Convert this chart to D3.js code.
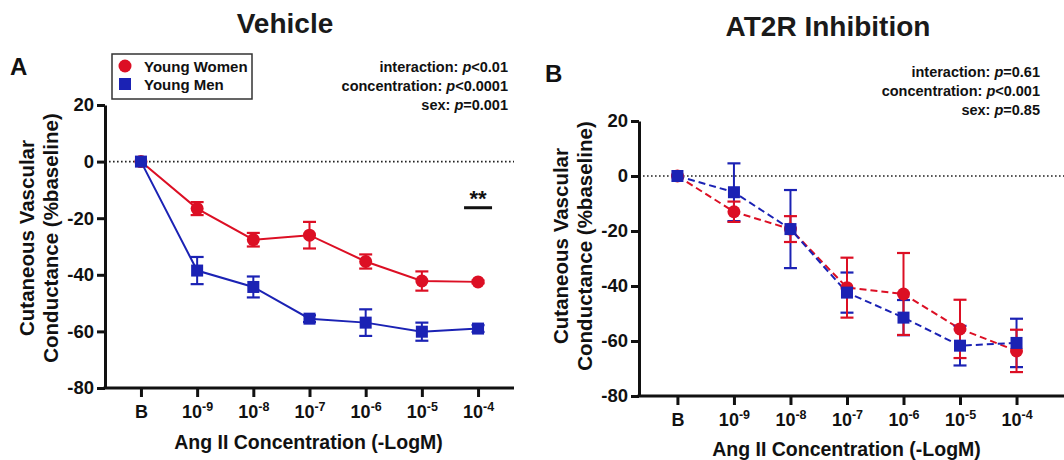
<!DOCTYPE html>
<html>
<head>
<meta charset="utf-8">
<script src="https://cdn.jsdelivr.net/npm/d3@7"></script>
<style>
  body { margin: 0; background: #fff; }
  svg text { font-family: "Liberation Sans", Arial, Helvetica, sans-serif; font-weight: bold; fill: #111; }
</style>
</head>
<body>
<svg id="chart" width="1064" height="460"></svg>
<script>
// x categories (B = baseline, then 10^-9 ... 10^-4 M)
var categories = ["B", "-9", "-8", "-7", "-6", "-5", "-4"]
var yTicks = [20, 0, -20, -40, -60, -80]

// panel A: vehicle
var vehWomen    = [0, -16.6, -27.6, -26.0, -35.3, -42.2, -42.5]
var vehWomenErr = [0, 2.3, 2.4, 4.7, 2.5, 3.4, 0.5]
var vehMen      = [0, -38.5, -44.3, -55.5, -56.9, -60.1, -59.0]
var vehMenErr   = [0, 4.8, 3.7, 1.2, 4.7, 3.2, 1.2]

// panel B: AT2R inhibition
var at2Women    = [0, -13.0, -19.3, -40.6, -42.9, -55.6, -63.6]
var at2WomenErr = [0, 3.7, 4.7, 10.9, 14.9, 10.6, 7.7]
var at2Men      = [0, -5.9, -19.3, -42.4, -51.5, -61.7, -60.7]
var at2MenErr   = [0, 10.5, 14.2, 7.3, 6.4, 7.2, 8.8]

var statsA = [["interaction: ", "p", "<0.01"], ["concentration: ", "p", "<0.0001"], ["sex: ", "p", "=0.001"]]
var statsB = [["interaction: ", "p", "=0.61"], ["concentration: ", "p", "<0.001"], ["sex: ", "p", "=0.85"]]

var RED = "#dc0f24", BLUE = "#1b22b4"

var svg = d3.select("#chart")

function drawPanel(opt){
  var g = svg.append("g")

  var x = d3.scaleLinear().domain(opt.xDomain).range(opt.xRange)
  var y = d3.scaleLinear().domain([-80, 20]).range(opt.yRange)
  var x0 = opt.xRange[0], x1 = opt.xRange[1]

  // titles
  g.append("text").attr("x", opt.titleX).attr("y", opt.titleY)
    .attr("text-anchor", "middle").style("font-size", "28px").style("fill", "#1a1a1a")
    .text(opt.title)
  g.append("text").attr("x", opt.letterX).attr("y", opt.letterY)
    .style("font-size", "24px").text(opt.letter)

  // stats block, right aligned
  opt.stats.forEach(function(s, i){
    var t = g.append("text").attr("x", opt.statsX).attr("y", opt.statsY + i * 19)
      .attr("text-anchor", "end").style("font-size", "14.5px")
    t.append("tspan").text(s[0])
    t.append("tspan").style("font-style", "italic").text(s[1])
    t.append("tspan").text(s[2])
  })

  // zero reference line
  g.append("line")
    .attr("x1", x0).attr("x2", x1).attr("y1", y(0)).attr("y2", y(0))
    .style("stroke", "#222").style("stroke-width", 1.6).style("stroke-dasharray", "1.6,2.4")

  // y axis (plain hyphen for negatives, like the original)
  var yAxis = g.append("g").attr("transform", "translate(" + x0 + ",0)")
    .call(d3.axisLeft(y).tickValues(yTicks).tickSize(8).tickSizeOuter(0).tickPadding(3)
      .tickFormat(function(d){ return String(d) }))
  yAxis.select(".domain").style("stroke", "#111").style("stroke-width", 3)
  yAxis.selectAll(".tick line").style("stroke", "#111").style("stroke-width", 3)
  yAxis.selectAll(".tick text").style("font-size", "18.5px").style("font-family", "Liberation Sans, Arial, sans-serif")
    .style("font-weight", "bold").style("fill", "#111")

  // x axis
  var xAxis = g.append("g").attr("transform", "translate(0," + y(-80) + ")")
    .call(d3.axisBottom(x).tickValues(d3.range(categories.length)).tickSize(9).tickSizeOuter(0).tickFormat(""))
  xAxis.select(".domain").attr("d", "M" + (x0 - 1.5) + ",0H" + x1).style("stroke", "#111").style("stroke-width", 3)
  xAxis.selectAll(".tick line").style("stroke", "#111").style("stroke-width", 3)
  xAxis.selectAll(".tick").each(function(d){
    var t = d3.select(this).append("text").attr("y", 30).attr("text-anchor", "middle")
      .style("font-size", "18px")
    if (categories[d] == "B") {
      t.text("B")
    } else {
      t.append("tspan").text("10")
      t.append("tspan").attr("dy", -7).style("font-size", "12.5px").text(categories[d])
    }
  })

  // axis titles
  g.append("text").attr("x", (x0 + opt.xTitleRight) / 2).attr("y", opt.xTitleY)
    .attr("text-anchor", "middle").style("font-size", "19.5px").text("Ang II Concentration (-LogM)")
  var yl = g.append("text").attr("transform", "translate(" + opt.yLabelX + "," + opt.yLabelY + ") rotate(-90)")
    .attr("text-anchor", "middle").style("font-size", "20.5px")
  yl.append("tspan").attr("x", 0).attr("dy", 0).text("Cutaneous Vascular")
  yl.append("tspan").attr("x", 0).attr("dy", 23.5).text("Conductance (%baseline)")

  var series = [
    { vals: opt.women, err: opt.womenErr, color: RED, shape: "circle" },
    { vals: opt.men, err: opt.menErr, color: BLUE, shape: "square" }
  ]

  var line = d3.line().x(function(d, i){ return x(i) }).y(function(d){ return y(d) })

  series.forEach(function(s){
    g.append("path").datum(s.vals).attr("d", line)
      .style("fill", "none").style("stroke", s.color).style("stroke-width", 2)
      .style("stroke-dasharray", opt.dashed ? "7,4" : null)
  })

  // error bars
  series.slice().reverse().forEach(function(s){
    var eb = g.append("g")
    s.vals.forEach(function(v, i){
      if (!s.err[i]) return
      var cx = x(i), top = y(v + s.err[i]), bot = y(v - s.err[i])
      eb.append("line").attr("x1", cx).attr("x2", cx).attr("y1", top).attr("y2", bot)
        .style("stroke", s.color).style("stroke-width", 2)
      ;[top, bot].forEach(function(yy){
        eb.append("line").attr("x1", cx - 6.5).attr("x2", cx + 6.5).attr("y1", yy).attr("y2", yy)
          .style("stroke", s.color).style("stroke-width", 2.2)
      })
    })
  })

  // markers
  series.forEach(function(s){
    if (s.shape == "circle") {
      g.selectAll(null).data(s.vals).enter().append("circle")
        .attr("cx", function(d, i){ return x(i) }).attr("cy", function(d){ return y(d) })
        .attr("r", 6.5).style("fill", s.color)
    } else {
      g.selectAll(null).data(s.vals).enter().append("rect")
        .attr("x", function(d, i){ return x(i) - 6 }).attr("y", function(d){ return y(d) - 6 })
        .attr("width", 12).attr("height", 12).style("fill", s.color)
    }
  })

  return { g: g, x: x, y: y }
}

var pA = drawPanel({
  title: "Vehicle", titleX: 285, titleY: 33, letter: "A", letterX: 10, letterY: 75,
  stats: statsA, statsX: 508, statsY: 72,
  xDomain: [-0.64, 6.64], xRange: [105, 514], yRange: [388, 105],
  xTitleRight: 512, xTitleY: 449, yLabelX: 34, yLabelY: 238,
  women: vehWomen, womenErr: vehWomenErr, men: vehMen, menErr: vehMenErr, dashed: false
})

var pB = drawPanel({
  title: "AT2R Inhibition", titleX: 828, titleY: 36, letter: "B", letterX: 545, letterY: 82,
  stats: statsB, statsX: 1040, statsY: 77,
  xDomain: [-0.68, 6.84], xRange: [639, 1064], yRange: [396, 121],
  xTitleRight: 1054, xTitleY: 456, yLabelX: 568, yLabelY: 246,
  women: at2Women, womenErr: at2WomenErr, men: at2Men, menErr: at2MenErr, dashed: true
})

// significance mark at the last concentration in panel A
var sx = pA.x(categories.length - 1)
pA.g.append("text").attr("x", sx).attr("y", 206).attr("text-anchor", "middle")
  .style("font-size", "22px").text("**")
pA.g.append("line").attr("x1", sx - 14).attr("x2", sx + 14).attr("y1", pA.y(-16.3)).attr("y2", pA.y(-16.3))
  .style("stroke", "#111").style("stroke-width", 3)

// legend
var legend = svg.append("g").attr("transform", "translate(112,54)")
legend.append("rect").attr("width", 140).attr("height", 45)
  .style("fill", "#fff").style("stroke", "#333").style("stroke-width", 1.5)
legend.append("circle").attr("cx", 13).attr("cy", 12).attr("r", 6.5).style("fill", RED)
legend.append("rect").attr("x", 7).attr("y", 24).attr("width", 12).attr("height", 12).style("fill", BLUE)
legend.append("text").attr("x", 32).attr("y", 17.5).style("font-size", "15px").text("Young Women")
legend.append("text").attr("x", 32).attr("y", 35.5).style("font-size", "15px").text("Young Men")
</script>
</body>
</html>
